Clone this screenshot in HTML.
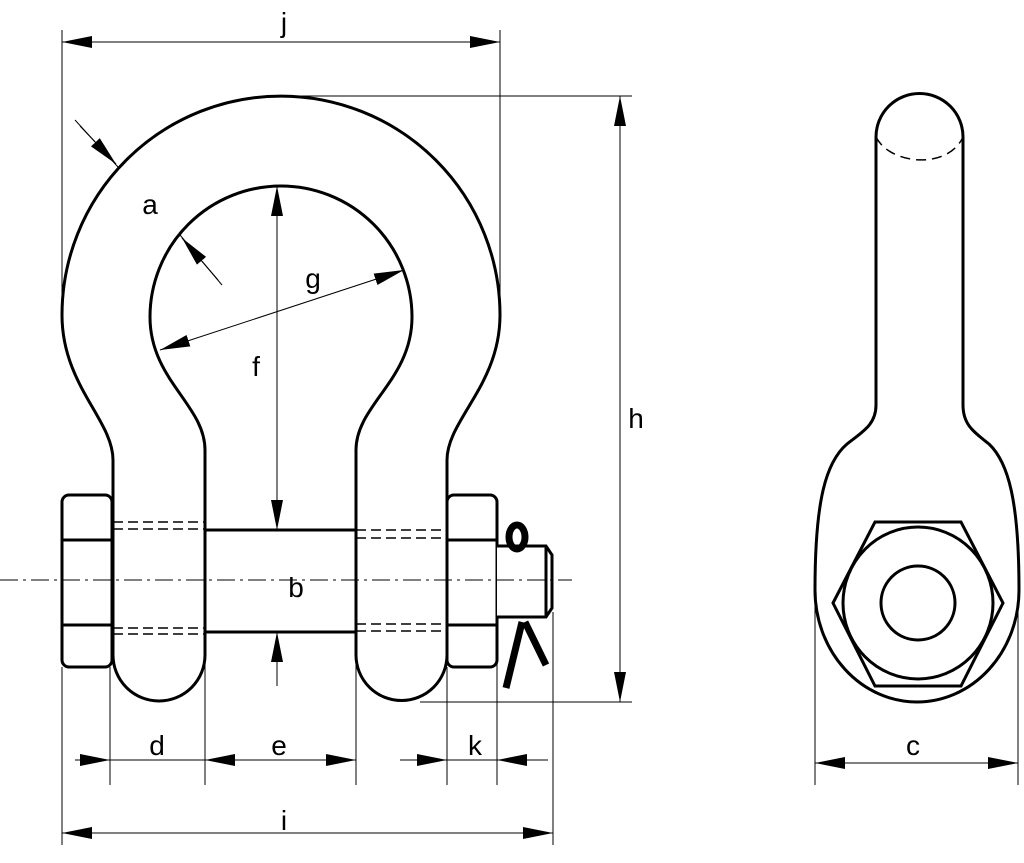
<!DOCTYPE html>
<html><head><style>html,body{margin:0;padding:0;background:#fff}svg{display:block}</style></head><body>
<svg width="1024" height="863" viewBox="0 0 1024 863" xmlns="http://www.w3.org/2000/svg">
<defs>
<marker id="ar" viewBox="0 0 10 10" refX="10" refY="5" markerWidth="30" markerHeight="12" markerUnits="userSpaceOnUse" orient="auto-start-reverse" preserveAspectRatio="none"><path d="M0,0 L10,5 L0,10 Z" fill="#000"/></marker>
</defs>
<g fill="none" stroke="#000">
<path stroke-width="3" fill="#fff" d="M113,655 L113,460 C113,420 62,385 62,315 A219,219 0 0 1 500,315 C500,385 447,420 447,460 L447,655 A45.5,45.5 0 0 1 356,655 L356,450 C356,405 412,380 412,317 A131,131 0 0 0 150,317 C150,380 205,405 205,450 L205,655 A46,46 0 0 1 113,655 Z"/>
<rect x="205" y="530" width="151" height="102" stroke-width="3" fill="#fff"/>
<g stroke-width="1.5" stroke-dasharray="10,5">
<line x1="113" y1="522" x2="205" y2="522"/><line x1="113" y1="529" x2="205" y2="529"/>
<line x1="113" y1="628" x2="205" y2="628"/><line x1="113" y1="634" x2="205" y2="634"/>
<line x1="356" y1="530" x2="447" y2="530"/><line x1="356" y1="538" x2="447" y2="538"/>
<line x1="356" y1="624" x2="447" y2="624"/><line x1="356" y1="631" x2="447" y2="631"/>
</g>
<g stroke-width="3" fill="#fff">
<rect x="62" y="495" width="50" height="172" rx="7"/>
<line x1="62" y1="540" x2="112" y2="540"/><line x1="62" y1="625" x2="112" y2="625"/>
<rect x="447" y="495" width="50" height="172" rx="7"/>
<line x1="447" y1="540" x2="497" y2="540"/><line x1="447" y1="625" x2="497" y2="625"/>
<path d="M497,546 L546,546 L552,555 L552,608 L546,617 L497,617"/>
<line x1="546" y1="546" x2="546" y2="617"/>
</g>
<ellipse cx="517" cy="537" rx="8" ry="12" stroke-width="7"/>
<line x1="522" y1="622" x2="506" y2="688" stroke-width="7"/>
<line x1="525" y1="622" x2="546" y2="665" stroke-width="7"/>
<line x1="0" y1="580" x2="572" y2="580" stroke-width="1" stroke-dasharray="18,5,3,5"/>
<!-- side view -->
<path stroke-width="3" d="M876,405 C876,425 862,432 847,444 C826,462 815,500 815,590 A102,112 0 0 0 1019,590 C1019,500 1008,462 989,444 C974,432 963,425 963,405 L963,137 A43.5,43.5 0 0 0 876,137 Z"/>
<path stroke-width="1.5" stroke-dasharray="10,6" d="M876,137 C890,165 948,170 963,137"/>
<polygon stroke-width="3" points="833,603 875,522 961,522 1003,603 961,686 875,686"/>
<ellipse cx="918" cy="603" rx="75" ry="76" stroke-width="3"/>
<ellipse cx="918" cy="603" rx="37" ry="37" stroke-width="3"/>
<g stroke-width="1">
<line x1="62" y1="30" x2="62" y2="300"/><line x1="500" y1="30" x2="500" y2="300"/>
<line x1="281" y1="96" x2="632" y2="96"/><line x1="420" y1="702" x2="632" y2="702"/>
<line x1="62" y1="667" x2="62" y2="845"/><line x1="110" y1="667" x2="110" y2="785"/>
<line x1="205" y1="650" x2="205" y2="785"/><line x1="356" y1="650" x2="356" y2="785"/>
<line x1="447" y1="667" x2="447" y2="785"/><line x1="497" y1="620" x2="497" y2="785"/>
<line x1="553" y1="612" x2="553" y2="845"/>
<line x1="815" y1="605" x2="815" y2="785"/><line x1="1018" y1="605" x2="1018" y2="785"/>
<line x1="277" y1="490" x2="277" y2="530"/><line x1="277" y1="632" x2="277" y2="686"/>
<line x1="75" y1="120" x2="118" y2="167"/><line x1="180" y1="235" x2="222" y2="285"/>
<line x1="62" y1="42" x2="500" y2="42" marker-start="url(#ar)" marker-end="url(#ar)"/>
<line x1="620" y1="96" x2="620" y2="702" marker-start="url(#ar)" marker-end="url(#ar)"/>
<line x1="277" y1="186" x2="277" y2="530" marker-start="url(#ar)" marker-end="url(#ar)"/>
<line x1="277" y1="680" x2="277" y2="632" marker-end="url(#ar)"/>
<line x1="160" y1="350" x2="404" y2="270" marker-start="url(#ar)" marker-end="url(#ar)"/>
<line x1="80" y1="126" x2="116" y2="164" marker-end="url(#ar)"/>
<line x1="218" y1="280" x2="182" y2="238" marker-end="url(#ar)"/>
<line x1="75" y1="760" x2="110" y2="760" marker-end="url(#ar)"/>
<line x1="110" y1="760" x2="356" y2="760"/>
<line x1="240" y1="760" x2="205" y2="760" marker-end="url(#ar)"/>
<line x1="320" y1="760" x2="356" y2="760" marker-end="url(#ar)"/>
<line x1="400" y1="760" x2="447" y2="760" marker-end="url(#ar)"/>
<line x1="447" y1="760" x2="497" y2="760"/>
<line x1="548" y1="760" x2="497" y2="760" marker-end="url(#ar)"/>
<line x1="62" y1="833" x2="553" y2="833" marker-start="url(#ar)" marker-end="url(#ar)"/>
<line x1="815" y1="763" x2="1018" y2="763" marker-start="url(#ar)" marker-end="url(#ar)"/>
</g>
</g>
<g font-family="'Liberation Sans', sans-serif" font-size="28" fill="#000" text-anchor="middle">
<text x="284" y="32">j</text>
<text x="150" y="214">a</text>
<text x="313" y="288">g</text>
<text x="256" y="376">f</text>
<text x="636" y="428">h</text>
<text x="296" y="597">b</text>
<text x="157" y="755">d</text>
<text x="279" y="755">e</text>
<text x="475" y="755">k</text>
<text x="284" y="830">i</text>
<text x="913" y="755">c</text>
</g>
</svg>
</body></html>
